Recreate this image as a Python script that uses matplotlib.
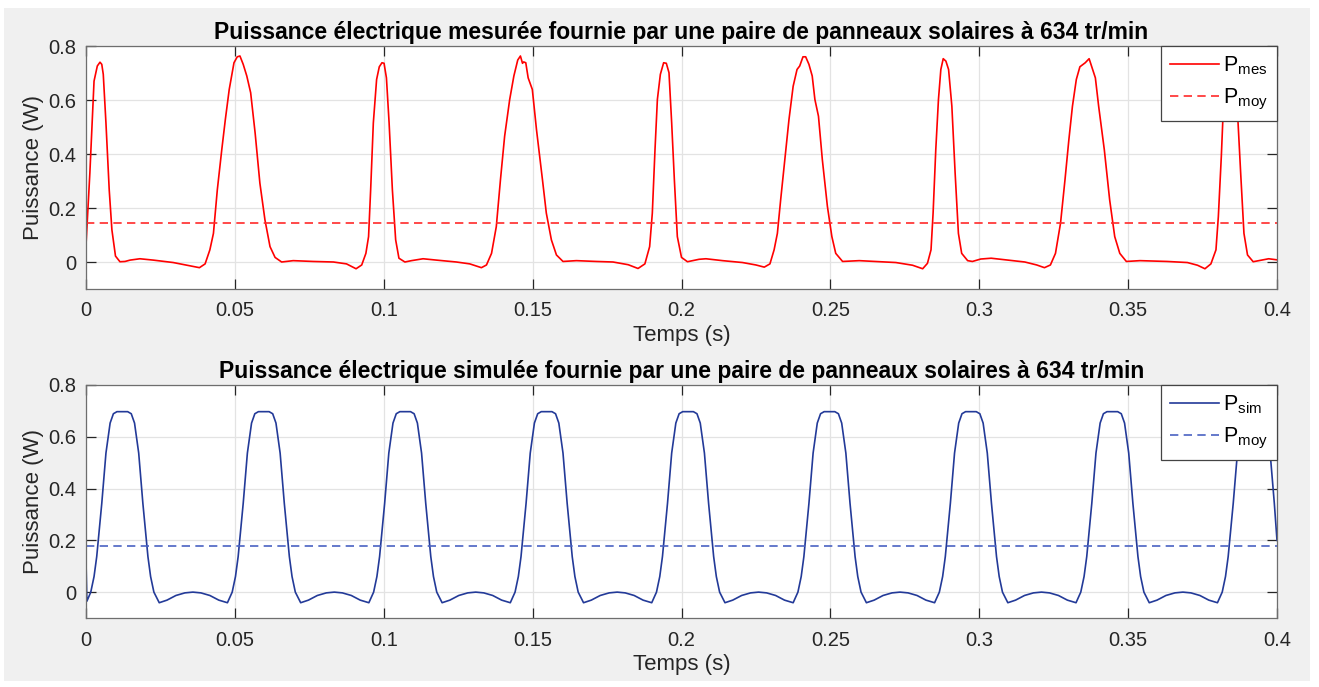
import matplotlib
matplotlib.use('Agg')
import matplotlib.pyplot as plt
from matplotlib.patches import Rectangle

plt.rcParams['font.family'] = ['Liberation Sans', 'DejaVu Sans']
plt.rcParams['mathtext.fontset'] = 'custom'
plt.rcParams['mathtext.rm'] = 'Liberation Sans'
plt.rcParams['mathtext.it'] = 'Liberation Sans:italic'

t_mes = [0.0000, 0.0013, 0.0027, 0.0038, 0.0047, 0.0053, 0.0058, 0.0067, 0.0078, 0.0087,
         0.0099, 0.0114, 0.0131, 0.0148, 0.0181, 0.0226, 0.0293, 0.0349, 0.0381, 0.0400,
         0.0416, 0.0428, 0.0441, 0.0456, 0.0468, 0.0481, 0.0497, 0.0508, 0.0517, 0.0528,
         0.0540, 0.0553, 0.0568, 0.0584, 0.0601, 0.0618, 0.0635, 0.0657, 0.0696, 0.0763,
         0.0831, 0.0875, 0.0907, 0.0926, 0.0940, 0.0949, 0.0956, 0.0965, 0.0976, 0.0985,
         0.0994, 0.1001, 0.1009, 0.1018, 0.1029, 0.1040, 0.1051, 0.1071, 0.1093, 0.1132,
         0.1177, 0.1244, 0.1289, 0.1328, 0.1345, 0.1362, 0.1378, 0.1392, 0.1406, 0.1423,
         0.1437, 0.1450, 0.1459, 0.1466, 0.1470, 0.1477, 0.1485, 0.1499, 0.1513, 0.1533,
         0.1546, 0.1563, 0.1580, 0.1602, 0.1647, 0.1714, 0.1770, 0.1821, 0.1854, 0.1877,
         0.1893, 0.1902, 0.1911, 0.1919, 0.1929, 0.1940, 0.1949, 0.1958, 0.1967, 0.1976,
         0.1986, 0.2000, 0.2020, 0.2059, 0.2082, 0.2138, 0.2205, 0.2250, 0.2278, 0.2297,
         0.2311, 0.2322, 0.2333, 0.2348, 0.2361, 0.2375, 0.2388, 0.2397, 0.2408, 0.2417,
         0.2428, 0.2439, 0.2448, 0.2460, 0.2473, 0.2490, 0.2505, 0.2518, 0.2541, 0.2597,
         0.2664, 0.2720, 0.2776, 0.2810, 0.2826, 0.2838, 0.2845, 0.2854, 0.2863, 0.2871,
         0.2879, 0.2888, 0.2897, 0.2908, 0.2919, 0.2930, 0.2941, 0.2961, 0.2977, 0.3005,
         0.3040, 0.3097, 0.3153, 0.3193, 0.3219, 0.3239, 0.3256, 0.3273, 0.3288, 0.3301,
         0.3313, 0.3326, 0.3338, 0.3356, 0.3369, 0.3381, 0.3390, 0.3401, 0.3420, 0.3438,
         0.3455, 0.3472, 0.3494, 0.3540, 0.3631, 0.3699, 0.3733, 0.3758, 0.3778, 0.3795,
         0.3803, 0.3813, 0.3820, 0.3828, 0.3836, 0.3845, 0.3855, 0.3862, 0.3869, 0.3878,
         0.3889, 0.3901, 0.3920, 0.3949, 0.3972, 0.4000]
p_mes = [0.063, 0.330, 0.670, 0.726, 0.740, 0.732, 0.695, 0.515, 0.267, 0.119,
         0.022, 0.001, 0.002, 0.007, 0.012, 0.007, -0.002, -0.014, -0.021, -0.007,
         0.045, 0.106, 0.267, 0.416, 0.528, 0.639, 0.738, 0.760, 0.763, 0.732,
         0.689, 0.627, 0.478, 0.292, 0.156, 0.057, 0.017, 0.000, 0.005, 0.002,
         0.000, -0.007, -0.025, -0.011, 0.032, 0.094, 0.267, 0.515, 0.676, 0.723,
         0.738, 0.736, 0.682, 0.515, 0.267, 0.082, 0.014, 0.000, 0.005, 0.012,
         0.007, 0.000, -0.007, -0.021, -0.011, 0.032, 0.131, 0.305, 0.466, 0.602,
         0.689, 0.748, 0.763, 0.736, 0.741, 0.738, 0.682, 0.639, 0.490, 0.305,
         0.181, 0.082, 0.026, 0.002, 0.005, 0.002, 0.000, -0.010, -0.024, -0.007,
         0.057, 0.181, 0.416, 0.602, 0.695, 0.738, 0.736, 0.701, 0.515, 0.305,
         0.094, 0.017, 0.001, 0.010, 0.012, 0.005, -0.002, -0.011, -0.019, -0.007,
         0.045, 0.106, 0.230, 0.391, 0.528, 0.651, 0.713, 0.726, 0.760, 0.760,
         0.732, 0.689, 0.602, 0.540, 0.379, 0.206, 0.094, 0.032, 0.002, 0.005,
         0.001, -0.002, -0.012, -0.025, -0.005, 0.045, 0.181, 0.416, 0.602, 0.713,
         0.753, 0.744, 0.713, 0.577, 0.329, 0.106, 0.032, 0.005, 0.002, 0.011,
         0.014, 0.007, 0.000, -0.011, -0.021, -0.011, 0.032, 0.144, 0.305, 0.453,
         0.577, 0.676, 0.723, 0.738, 0.753, 0.713, 0.682, 0.577, 0.416, 0.230,
         0.094, 0.032, 0.002, 0.005, 0.002, -0.002, -0.012, -0.025, -0.007, 0.045,
         0.168, 0.391, 0.577, 0.700, 0.745, 0.740, 0.700, 0.620, 0.520, 0.329,
         0.106, 0.026, 0.001, 0.007, 0.012, 0.008]
p_moy_mes = 0.145

# puissance simulee (une ligne par periode)
t_sim = [0.0000, 0.0003, 0.0016, 0.0027, 0.0036, 0.0053, 0.0067, 0.0081, 0.0092, 0.0104, 0.0140, 0.0152, 0.0163, 0.0177, 0.0191, 0.0208, 0.0217, 0.0228, 0.0246, 0.0272, 0.0302, 0.0332, 0.0359, 0.0386, 0.0416, 0.0446,
         0.0475, 0.0491, 0.0502, 0.0511, 0.0528, 0.0542, 0.0556, 0.0567, 0.0579, 0.0615, 0.0627, 0.0638, 0.0652, 0.0666, 0.0683, 0.0692, 0.0703, 0.0721, 0.0747, 0.0777, 0.0807, 0.0834, 0.0861, 0.0891, 0.0921,
         0.0950, 0.0966, 0.0977, 0.0986, 0.1003, 0.1017, 0.1031, 0.1042, 0.1054, 0.1090, 0.1102, 0.1113, 0.1127, 0.1141, 0.1158, 0.1167, 0.1178, 0.1196, 0.1222, 0.1252, 0.1282, 0.1309, 0.1336, 0.1366, 0.1396,
         0.1425, 0.1441, 0.1452, 0.1461, 0.1478, 0.1492, 0.1506, 0.1517, 0.1529, 0.1565, 0.1577, 0.1588, 0.1602, 0.1616, 0.1633, 0.1642, 0.1653, 0.1671, 0.1697, 0.1727, 0.1757, 0.1784, 0.1811, 0.1841, 0.1871,
         0.1900, 0.1916, 0.1927, 0.1936, 0.1953, 0.1967, 0.1981, 0.1992, 0.2004, 0.2040, 0.2052, 0.2063, 0.2077, 0.2091, 0.2108, 0.2117, 0.2128, 0.2146, 0.2172, 0.2202, 0.2232, 0.2259, 0.2286, 0.2316, 0.2346,
         0.2375, 0.2391, 0.2402, 0.2411, 0.2428, 0.2442, 0.2456, 0.2467, 0.2479, 0.2515, 0.2527, 0.2538, 0.2552, 0.2566, 0.2583, 0.2592, 0.2603, 0.2621, 0.2647, 0.2677, 0.2707, 0.2734, 0.2761, 0.2791, 0.2821,
         0.2850, 0.2866, 0.2877, 0.2886, 0.2903, 0.2917, 0.2931, 0.2942, 0.2954, 0.2990, 0.3002, 0.3013, 0.3027, 0.3041, 0.3058, 0.3067, 0.3078, 0.3096, 0.3122, 0.3152, 0.3182, 0.3209, 0.3236, 0.3266, 0.3296,
         0.3325, 0.3341, 0.3352, 0.3361, 0.3378, 0.3392, 0.3406, 0.3417, 0.3429, 0.3465, 0.3477, 0.3488, 0.3502, 0.3516, 0.3533, 0.3542, 0.3553, 0.3571, 0.3597, 0.3627, 0.3657, 0.3684, 0.3711, 0.3741, 0.3771,
         0.3800, 0.3816, 0.3827, 0.3836, 0.3853, 0.3867, 0.3881, 0.3892, 0.3904, 0.3940, 0.3952, 0.3963, 0.3977, 0.3991, 0.4000]
p_sim = [0.120, -0.035, 0.000, 0.060, 0.137, 0.343, 0.537, 0.653, 0.689, 0.697, 0.697, 0.689, 0.653, 0.537, 0.343, 0.137, 0.060, 0.000, -0.041, -0.031, -0.013, -0.003, 0.000, -0.003, -0.013, -0.031,
         -0.041, 0.000, 0.060, 0.137, 0.343, 0.537, 0.653, 0.689, 0.697, 0.697, 0.689, 0.653, 0.537, 0.343, 0.137, 0.060, 0.000, -0.041, -0.031, -0.013, -0.003, 0.000, -0.003, -0.013, -0.031,
         -0.041, 0.000, 0.060, 0.137, 0.343, 0.537, 0.653, 0.689, 0.697, 0.697, 0.689, 0.653, 0.537, 0.343, 0.137, 0.060, 0.000, -0.041, -0.031, -0.013, -0.003, 0.000, -0.003, -0.013, -0.031,
         -0.041, 0.000, 0.060, 0.137, 0.343, 0.537, 0.653, 0.689, 0.697, 0.697, 0.689, 0.653, 0.537, 0.343, 0.137, 0.060, 0.000, -0.041, -0.031, -0.013, -0.003, 0.000, -0.003, -0.013, -0.031,
         -0.041, 0.000, 0.060, 0.137, 0.343, 0.537, 0.653, 0.689, 0.697, 0.697, 0.689, 0.653, 0.537, 0.343, 0.137, 0.060, 0.000, -0.041, -0.031, -0.013, -0.003, 0.000, -0.003, -0.013, -0.031,
         -0.041, 0.000, 0.060, 0.137, 0.343, 0.537, 0.653, 0.689, 0.697, 0.697, 0.689, 0.653, 0.537, 0.343, 0.137, 0.060, 0.000, -0.041, -0.031, -0.013, -0.003, 0.000, -0.003, -0.013, -0.031,
         -0.041, 0.000, 0.060, 0.137, 0.343, 0.537, 0.653, 0.689, 0.697, 0.697, 0.689, 0.653, 0.537, 0.343, 0.137, 0.060, 0.000, -0.041, -0.031, -0.013, -0.003, 0.000, -0.003, -0.013, -0.031,
         -0.041, 0.000, 0.060, 0.137, 0.343, 0.537, 0.653, 0.689, 0.697, 0.697, 0.689, 0.653, 0.537, 0.343, 0.137, 0.060, 0.000, -0.041, -0.031, -0.013, -0.003, 0.000, -0.003, -0.013, -0.031,
         -0.041, 0.000, 0.060, 0.137, 0.343, 0.537, 0.653, 0.689, 0.697, 0.697, 0.689, 0.653, 0.537, 0.343, 0.200]
p_moy_sim = 0.18

x_ticks = [0, 0.05, 0.1, 0.15, 0.2, 0.25, 0.3, 0.35, 0.4]
x_labels = ['0', '0.05', '0.1', '0.15', '0.2', '0.25', '0.3', '0.35', '0.4']
y_ticks = [0, 0.2, 0.4, 0.6, 0.8]
y_labels = ['0', '0.2', '0.4', '0.6', '0.8']

W, H = 1319, 687
fig = plt.figure(figsize=(W / 100, H / 100), dpi=100, facecolor='white')
fig.patches.append(Rectangle((4 / W, 6 / H), 1306 / W, 673 / H, transform=fig.transFigure,
                             facecolor='#f0f0f0', edgecolor='none', zorder=-10))

ax1 = fig.add_axes([86 / W, 1 - 289 / H, 1191 / W, 243 / H])
ax2 = fig.add_axes([86 / W, 1 - 618 / H, 1191 / W, 233 / H])

ax1.plot(t_mes, p_mes, color='#ff0000', lw=1.2, label=r'$\mathrm{P_{mes}}$')
ax1.axhline(p_moy_mes, color='#ff2a2a', lw=1.2, linestyle=(0, (5, 3.2)), label=r'$\mathrm{P_{moy}}$')
ax2.plot(t_sim, p_sim, color='#233a98', lw=1.2, label=r'$\mathrm{P_{sim}}$')
ax2.axhline(p_moy_sim, color='#4a62c2', lw=1.2, linestyle=(0, (5, 3.2)), label=r'$\mathrm{P_{moy}}$')

titles = ['Puissance électrique mesurée fournie par une paire de panneaux solaires à 634 tr/min',
          'Puissance électrique simulée fournie par une paire de panneaux solaires à 634 tr/min']

for ax, title in zip([ax1, ax2], titles):
    ax.set_facecolor('white')
    ax.set_xlim(0, 0.4)
    ax.set_ylim(-0.1, 0.8)
    ax.set_xticks(x_ticks)
    ax.set_xticklabels(x_labels)
    ax.set_yticks(y_ticks)
    ax.set_yticklabels(y_labels)
    ax.grid(True, color='#e3e3e3', lw=0.9)
    ax.set_axisbelow(True)
    ax.tick_params(direction='in', length=7, width=0.9, colors='#262626', labelsize=14.5,
                   top=True, right=True)
    ax.tick_params(axis='x', pad=9)
    ax.tick_params(axis='y', pad=7)
    for s in ax.spines.values():
        s.set_color('#6e6e6e')
        s.set_linewidth(0.9)
    ax.set_title(title, fontsize=16.5, fontweight='bold', pad=5)
    ax.set_xlabel('Temps (s)', fontsize=16, color='#262626', labelpad=3)
    ax.set_ylabel('Puissance (W)', fontsize=16, color='#262626', labelpad=3)
    leg = ax.legend(loc='upper right', bbox_to_anchor=(1, 1), borderaxespad=0, fontsize=15.5,
                    handlelength=2.3, fancybox=False, framealpha=1, edgecolor='#444444',
                    borderpad=0.4, labelspacing=0.45, handletextpad=0.2)
    leg.get_frame().set_linewidth(0.9)

plt.savefig('out.png', dpi=100, facecolor=fig.get_facecolor())
